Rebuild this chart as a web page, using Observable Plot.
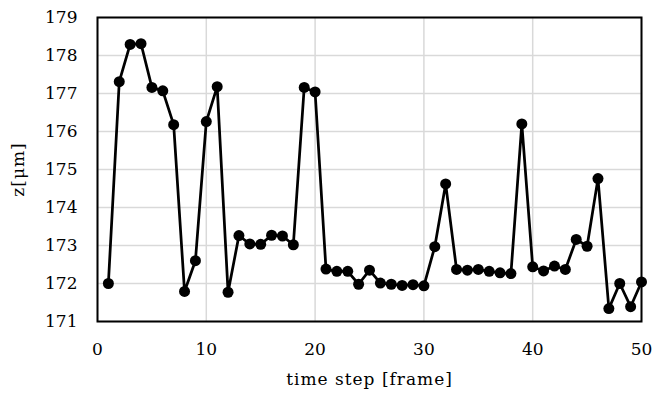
<!DOCTYPE html>
<html><head><meta charset="utf-8">
<script src="https://cdn.jsdelivr.net/npm/d3@7"></script>
<script src="https://cdn.jsdelivr.net/npm/@observablehq/plot@0.6"></script>
<style>
body{margin:0;background:#fff}
g[aria-label="x-axis label"] text, g[aria-label="y-axis label"] text {letter-spacing: 1px;}
</style>
</head><body><div id="chart"></div>
<script>
const frames = d3.range(1, 51);
const zValues = [172.00,177.31,178.29,178.31,177.16,177.07,176.18,171.79,172.60,176.26,
177.18,171.77,173.26,173.04,173.03,173.27,173.25,173.02,177.16,177.04,
172.38,172.32,172.32,171.98,172.35,172.01,171.98,171.95,171.97,171.94,
172.97,174.62,172.37,172.35,172.37,172.32,172.28,172.26,176.20,172.44,
172.33,172.46,172.37,173.16,172.98,174.76,171.34,172.00,171.39,172.04];
const xTicks = [0,10,20,30,40,50];
const yTicks = [171,172,173,174,175,176,177,178,179];
const data = frames.map((f,i)=>({frame:f, z:zValues[i]}));
const font = "'DejaVu Serif', serif";

const chart = Plot.plot({
  width: 654, height: 397,
  marginLeft: 97, marginRight: 13, marginTop: 17, marginBottom: 76,
  style: "font-family: 'DejaVu Serif', serif; font-size: 17px; color: #000; background: #fff;",
  x: {domain: [0,50]},
  y: {domain: [171,179]},
  marks: [
    Plot.gridX(xTicks, {stroke: "#d9d9d9", strokeOpacity: 1, strokeWidth: 1.5}),
    Plot.gridY(yTicks, {stroke: "#d9d9d9", strokeOpacity: 1, strokeWidth: 1.5}),
    Plot.axisX(xTicks, {tickSize: 0, tickPadding: 21, label: "time step [frame]", labelAnchor: "center", labelArrow: "none", labelOffset: 63, fontSize: 17, fontFamily: font}),
    Plot.axisY(yTicks, {tickSize: 0, tickPadding: 20, label: "z[μm]", labelAnchor: "center", labelArrow: "none", labelOffset: 86, fontSize: 17, fontFamily: font}),
    Plot.line(data, {x: "frame", y: "z", stroke: "#000", strokeWidth: 2.75}),
    Plot.dot(data, {x: "frame", y: "z", fill: "#000", r: 5.5}),
    Plot.frame({stroke: "#000", strokeWidth: 2})
  ]
});
document.getElementById("chart").appendChild(chart);
</script></body></html>
